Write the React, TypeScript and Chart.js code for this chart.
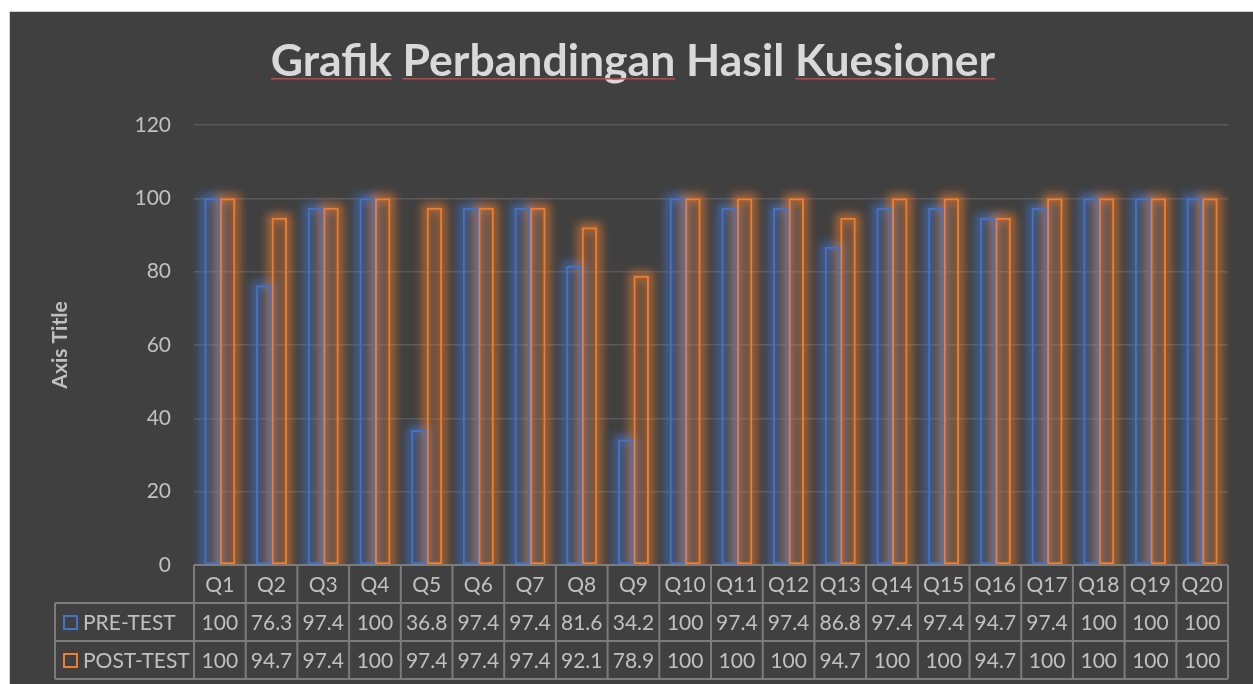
import React, { useEffect, useRef } from "react";
import { Chart, registerables } from "chart.js";

Chart.register(...registerables);

const categories = ["Q1", "Q2", "Q3", "Q4", "Q5", "Q6", "Q7", "Q8", "Q9", "Q10", "Q11", "Q12", "Q13", "Q14", "Q15", "Q16", "Q17", "Q18", "Q19", "Q20"];
const preTest = [100, 76.3, 97.4, 100, 36.8, 97.4, 97.4, 81.6, 34.2, 100, 97.4, 97.4, 86.8, 97.4, 97.4, 94.7, 97.4, 100, 100, 100];
const postTest = [100, 94.7, 97.4, 100, 97.4, 97.4, 97.4, 92.1, 78.9, 100, 100, 100, 94.7, 100, 100, 94.7, 100, 100, 100, 100];
const seriesNames = ["PRE-TEST", "POST-TEST"];
const yTicks = [0, 20, 40, 60, 80, 100, 120];
const titleText = "Grafik Perbandingan Hasil Kuesioner";
const underlinedWords = ["Grafik", "Perbandingan", "Kuesioner"];
const axisTitle = "Axis Title";

const W = 1253;
const H = 684;
const BLUE = "#4472C4";
const ORANGE = "#ED7D31";
const GLOW = ["rgba(68,114,196,0.75)", "rgba(237,125,49,0.7)"];
const TEXT = "#c0c0c0";
const LINE = "#7c7c7c";
const FONT = "Lato, 'Noto Sans', sans-serif";

const backgroundPlugin = {
  id: "bgPlugin",
  beforeDraw(chart: any) {
    const ctx = chart.ctx;
    ctx.save();
    ctx.fillStyle = "#ffffff";
    ctx.fillRect(0, 0, W, H);
    ctx.fillStyle = "#404040";
    ctx.fillRect(10, 12, W - 10, H - 12);
    ctx.strokeStyle = "#d0d0d0";
    ctx.lineWidth = 1;
    ctx.strokeRect(9.5, 11.5, W, H);
    ctx.restore();
  },
};

const glowPlugin = {
  id: "glowPlugin",
  beforeDatasetsDraw(chart: any) {
    const ctx = chart.ctx;
    const area = chart.chartArea;
    ctx.save();
    ctx.beginPath();
    ctx.rect(0, 0, W, area.bottom);
    ctx.clip();
    ctx.filter = "blur(5px)";
    chart.data.datasets.forEach((_ds: any, i: number) => {
      const meta = chart.getDatasetMeta(i);
      meta.data.forEach((el: any) => {
        const { x, y, base, width } = el.getProps(["x", "y", "base", "width"], true);
        ctx.strokeStyle = GLOW[i];
        ctx.lineWidth = 8;
        ctx.strokeRect(x - width / 2, y, width, base - y + 12);
      });
    });
    ctx.restore();
  },
};

const tablePlugin = {
  id: "tablePlugin",
  afterDraw(chart: any) {
    const ctx = chart.ctx;
    const area = chart.chartArea;
    const xs = chart.scales.x;
    const n = categories.length;
    const colW = (area.right - area.left) / n;
    const rowH = 38;
    const y0 = area.bottom;
    const y1 = y0 + rowH;
    const y2 = y1 + rowH;
    const y3 = y2 + rowH;
    const legendLeft = 55;

    ctx.save();
    ctx.strokeStyle = LINE;
    ctx.lineWidth = 2;
    ctx.beginPath();
    ctx.moveTo(area.left, y0);
    ctx.lineTo(area.right, y0);
    [y1, y2, y3].forEach((yy) => {
      ctx.moveTo(legendLeft, yy);
      ctx.lineTo(area.right, yy);
    });
    for (let k = 0; k <= n; k++) {
      const xx = k < n ? xs.getPixelForValue(k) - colW / 2 : xs.getPixelForValue(n - 1) + colW / 2;
      ctx.moveTo(xx, y0);
      ctx.lineTo(xx, y3);
    }
    ctx.moveTo(legendLeft, y1);
    ctx.lineTo(legendLeft, y3);
    ctx.stroke();

    ctx.fillStyle = TEXT;
    ctx.font = `21px ${FONT}`;
    ctx.textAlign = "center";
    ctx.textBaseline = "middle";
    const series = [preTest, postTest];
    categories.forEach((c, i) => {
      const cx = xs.getPixelForValue(i);
      ctx.fillText(c, cx, (y0 + y1) / 2 + 1);
      ctx.fillText(String(series[0][i]), cx, (y1 + y2) / 2 + 1);
      ctx.fillText(String(series[1][i]), cx, (y2 + y3) / 2 + 1);
    });

    const colors = [BLUE, ORANGE];
    [y1, y2].forEach((top, r) => {
      const cy = top + rowH / 2;
      ctx.strokeStyle = colors[r];
      ctx.lineWidth = 2;
      ctx.strokeRect(64, cy - 6, 13, 13);
      ctx.textAlign = "left";
      ctx.fillStyle = TEXT;
      ctx.fillText(seriesNames[r], 83, cy + 1);
    });

    // Title
    const cx = 633;
    const ty = 76;
    ctx.font = `bold 44.5px ${FONT}`;
    ctx.fillStyle = "#d9d9d9";
    ctx.textAlign = "left";
    ctx.textBaseline = "alphabetic";
    const total = ctx.measureText(titleText).width;
    const startX = cx - total / 2;
    ctx.fillText(titleText, startX, ty);
    ctx.fillStyle = "#b94a48";
    underlinedWords.forEach((w) => {
      const idx = titleText.indexOf(w);
      const off = ctx.measureText(titleText.slice(0, idx)).width;
      const ww = ctx.measureText(w).width;
      ctx.fillRect(startX + off, ty + 2, ww, 1.5);
    });
    ctx.restore();
  },
};

export default function App() {
  const ref = useRef<HTMLCanvasElement | null>(null);

  useEffect(() => {
    if (!ref.current) return;
    const chart = new Chart(ref.current, {
      type: "bar",
      data: {
        labels: categories,
        datasets: [
          {
            label: seriesNames[0],
            data: preTest,
            backgroundColor: "rgba(0,0,0,0)",
            borderColor: BLUE,
            borderWidth: 2,
            borderSkipped: false,
            categoryPercentage: 0.6,
            barPercentage: 1.0,
          },
          {
            label: seriesNames[1],
            data: postTest,
            backgroundColor: "rgba(0,0,0,0)",
            borderColor: ORANGE,
            borderWidth: 2,
            borderSkipped: false,
            categoryPercentage: 0.6,
            barPercentage: 1.0,
          },
        ],
      },
      options: {
        responsive: false,
        animation: false,
        layout: { padding: { left: 10, right: 25, top: 125, bottom: 119 } },
        plugins: {
          legend: { display: false },
          tooltip: { enabled: false },
          title: { display: false },
        },
        scales: {
          x: { display: false },
          y: {
            min: 0,
            max: 120,
            afterBuildTicks: (s: any) => {
              s.ticks = yTicks.map((v) => ({ value: v }));
            },
            afterFit: (s: any) => {
              s.width = 184;
            },
            ticks: {
              color: TEXT,
              font: { family: FONT, size: 21 },
              padding: 23,
            },
            grid: {
              color: (c: any) => (c.tick && c.tick.value === 0 ? "rgba(0,0,0,0)" : "#5a5a5a"),
              lineWidth: 1.5,
              drawTicks: false,
            },
            border: { display: false },
            title: {
              display: true,
              text: axisTitle,
              color: TEXT,
              font: { family: FONT, size: 21, weight: "bold" },
              padding: { top: 38, bottom: 0 },
            },
          },
        },
      },
      plugins: [backgroundPlugin, glowPlugin, tablePlugin],
    } as any);
    return () => chart.destroy();
  }, []);

  return (
    <div style={{ position: "fixed", left: 0, top: 0, width: W, height: H }}>
      <canvas ref={ref} width={W} height={H} style={{ display: "block", width: W, height: H }} />
    </div>
  );
}
